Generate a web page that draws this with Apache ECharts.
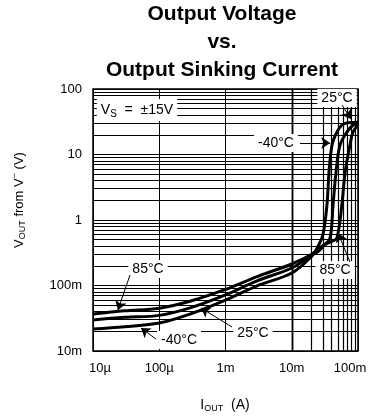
<!DOCTYPE html>
<html><head><meta charset="utf-8">
<script src="https://cdn.jsdelivr.net/npm/echarts@6/dist/echarts.min.js"></script>
<style>html,body{margin:0;padding:0;background:#fff;}#c{width:377px;height:417px;}</style>
</head><body><div id="c"></div>
<script>
// ---- axis ticks ----
const xTickValues = [1e-5, 1e-4, 1e-3, 1e-2, 1e-1];
const xTickLabels = ['10\u00b5', '100\u00b5', '1m', '10m', '100m'];
const yTickValues = [0.01, 0.1, 1, 10, 100];
const yTickLabels = ['10m', '100m', '1', '10', '100'];
const minorSteps = [2, 3, 4, 5, 6, 7, 8, 9];

// ---- series data (I_OUT in A, V_OUT in V) ----
const currentM40 = [1e-5, 3e-5, 1e-4, 3e-4, 1e-3, 3e-3, 1e-2, 0.02, 0.025, 0.0296, 0.034, 0.0365, 0.0406, 0.048, 0.057, 0.07, 0.1];
const voltM40    = [0.0217, 0.0235, 0.0267, 0.037, 0.060, 0.099, 0.155, 0.28, 0.40, 0.6, 1.7, 5.4, 14, 22, 28, 30.5, 31];
const current25  = [1e-5, 3e-5, 1e-4, 3e-4, 1e-3, 3e-3, 1e-2, 0.02, 0.025, 0.03, 0.0378, 0.042, 0.0466, 0.0535, 0.068, 0.084, 0.1];
const volt25     = [0.0297, 0.0327, 0.035, 0.046, 0.072, 0.118, 0.185, 0.29, 0.33, 0.40, 0.53, 1.69, 5.4, 13.9, 22, 28, 29];
const current85  = [1e-5, 3e-5, 1e-4, 3e-4, 1e-3, 3e-3, 1e-2, 0.02, 0.03, 0.04, 0.048, 0.057, 0.064, 0.0757, 0.084, 0.1];
const volt85     = [0.0367, 0.041, 0.045, 0.058, 0.087, 0.137, 0.213, 0.30, 0.41, 0.47, 0.53, 1.69, 5.4, 13.9, 22, 28];

// ---- annotations (data coordinates) ----
const annoText   = ['25\u00b0C', '-40\u00b0C', '85\u00b0C', '-40\u00b0C', '25\u00b0C', '85\u00b0C'];
const annoI      = [0.0482, 0.00578, 6.76e-5, 1.99e-4, 2.60e-3, 0.0450];
const annoV      = [73, 15, 0.1786, 0.01472, 0.01884, 0.1725];
const arrowFromI = [0.0573, 0.01334, 3.62e-5, 8.93e-5, 1.253e-3, 0.0757];
const arrowFromV = [57, 15, 0.1446, 0.01524, 0.02323, 0.2286];
const arrowToI   = [0.0783, 0.038, 2.38e-5, 5.30e-5, 4.27e-4, 0.0499];
const arrowToV   = [34.8, 15, 0.0423, 0.02244, 0.0453, 0.634];
const vsI = 4.61e-5, vsV = 47.8;

const FONT = 'Liberation Sans';
const zip = (a, b) => a.map((v, i) => [v, b[i]]);
function decadeMinors(ticks) {
  const out = [];
  for (let i = 0; i < ticks.length - 1; i++) for (const m of minorSteps) out.push(ticks[i] * m);
  return out;
}
function tickIndex(v, vals) {
  let best = -1, bd = 0.01;
  vals.forEach((t, i) => { const d = Math.abs(Math.log10(v) - Math.log10(t)); if (d < bd) { bd = d; best = i; } });
  return best;
}

const chart = echarts.init(document.getElementById('c'), null, { renderer: 'canvas' });

const gridLines = [
  ...decadeMinors(xTickValues).map(v => ({ xAxis: v })),
  ...decadeMinors(yTickValues).map(v => ({ yAxis: v }))
];

const curveStyle = { width: 3, color: '#000' };
const lblRich = {
  n: { fontFamily: FONT, fontSize: 14, color: '#000', lineHeight: 22 },
  s: { fontFamily: FONT, fontSize: 10, color: '#000', lineHeight: 22, padding: [8, 0, 0, 0] }
};

const option = {
  animation: false,
  backgroundColor: '#fff',
  title: {
    text: 'Output Voltage\nvs.\nOutput Sinking Current',
    left: 222, top: 0, textAlign: 'center', padding: 0,
    textStyle: { fontFamily: FONT, fontWeight: 'bold', fontSize: 21, lineHeight: 28, color: '#000' }
  },
  grid: { left: 93, top: 89, width: 265, height: 262, show: true, borderColor: '#000', borderWidth: 1.5, containLabel: false },
  xAxis: {
    type: 'log', logBase: 10, min: 1e-5, max: 0.1,
    axisLine: { show: false }, axisTick: { show: false },
    splitLine: { show: true, lineStyle: { color: '#000', width: 1 } },
    axisLabel: {
      margin: 11, color: '#000', fontFamily: FONT, fontSize: 13,
      formatter: v => {
        const i = tickIndex(v, xTickValues);
        if (i < 0) return '';
        if (i === 0) return '{f|' + xTickLabels[i] + '}';
        if (i === xTickLabels.length - 1) return '{l|' + xTickLabels[i] + '}';
        return '{m|' + xTickLabels[i] + '}';
      },
      rich: {
        f: { fontFamily: FONT, fontSize: 13, color: '#000', padding: [0, 0, 0, 14] },
        l: { fontFamily: FONT, fontSize: 13, color: '#000', padding: [0, 16, 0, 0] },
        m: { fontFamily: FONT, fontSize: 13, color: '#000' }
      }
    }
  },
  yAxis: {
    type: 'log', logBase: 10, min: 0.01, max: 100,
    axisLine: { show: false }, axisTick: { show: false },
    splitLine: { show: true, lineStyle: { color: '#000', width: 1 } },
    axisLabel: {
      margin: 11, color: '#000', fontFamily: FONT, fontSize: 13,
      formatter: v => { const i = tickIndex(v, yTickValues); return i < 0 ? '' : yTickLabels[i]; }
    }
  },
  graphic: [
    { type: 'text', x: 19, y: 200, rotation: Math.PI / 2, z: 100,
      style: { text: '{n|V}{s|OUT}{n| from V}{p|\u2212}{n| (V)}', align: 'center', verticalAlign: 'middle',
        rich: {
          n: { fontFamily: FONT, fontSize: 13, color: '#000', lineHeight: 24 },
          s: { fontFamily: FONT, fontSize: 9, color: '#000', lineHeight: 16, padding: [8, 0, 0, 0] },
          p: { fontFamily: FONT, fontSize: 9, color: '#000', lineHeight: 16, padding: [0, 0, 8, 0] }
        } } },
    { type: 'text', x: 225, y: 405, z: 100,
      style: { text: '{n|I}{s|OUT}{n|  (A)}', align: 'center', verticalAlign: 'middle',
        rich: {
          n: { fontFamily: FONT, fontSize: 14, color: '#000', lineHeight: 24 },
          s: { fontFamily: FONT, fontSize: 9, color: '#000', lineHeight: 16, padding: [8, 0, 0, 0] }
        } } }
  ],
  series: [
    { // grid minor lines
      type: 'line', data: [[1e-5, 0.01]], showSymbol: false, lineStyle: { opacity: 0 }, silent: true, z: 1,
      markLine: {
        silent: true, symbol: ['none', 'none'], label: { show: false }, z: 1, animation: false,
        lineStyle: { color: '#000', width: 1.2, type: 'solid' },
        emphasis: { disabled: true },
        data: gridLines
      }
    },
    { // annotation labels and arrows
      type: 'line', data: [[1e-5, 0.01]], showSymbol: false, lineStyle: { opacity: 0 }, silent: true, z: 3,
      markPoint: {
        silent: true, symbol: 'circle', symbolSize: 0, z: 3, animation: false,
        label: { show: true, position: 'inside', color: '#000', fontFamily: FONT, fontSize: 14, backgroundColor: '#fff', padding: [2, 4] },
        data: [
          ...annoText.map((t, i) => ({ coord: [annoI[i], annoV[i]], value: 0, label: { formatter: t } })),
          { coord: [vsI, vsV], value: 0, label: { formatter: '{n|V}{s|S}{n|  =  \u00b115V}', rich: lblRich, padding: [0, 4] } }
        ]
      },
      markLine: {
        silent: true, symbol: ['none', 'arrow'], symbolSize: 9, label: { show: false }, z: 4, animation: false,
        lineStyle: { color: '#000', width: 1, type: 'solid' },
        data: annoText.map((t, i) => [{ coord: [arrowFromI[i], arrowFromV[i]] }, { coord: [arrowToI[i], arrowToV[i]] }])
      }
    },
    { name: '-40°C', type: 'line', data: zip(currentM40, voltM40), showSymbol: false, smooth: 0.35, lineStyle: curveStyle, z: 10 },
    { name: '25°C', type: 'line', data: zip(current25, volt25), showSymbol: false, smooth: 0.35, lineStyle: curveStyle, z: 10 },
    { name: '85°C', type: 'line', data: zip(current85, volt85), showSymbol: false, smooth: 0.35, lineStyle: curveStyle, z: 10 }
  ]
};
chart.setOption(option);
</script>
</body></html>
